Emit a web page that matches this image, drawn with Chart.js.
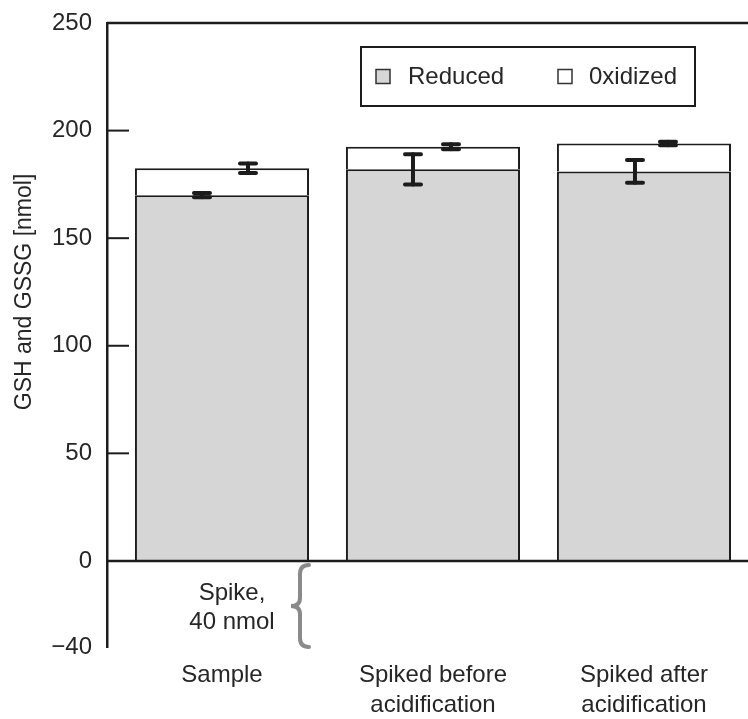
<!DOCTYPE html>
<html>
<head>
<meta charset="utf-8">
<script src="https://cdn.jsdelivr.net/npm/chart.js@4.4.1/dist/chart.umd.min.js"></script>
<style>
  html, body { margin: 0; padding: 0; background: #fff; }
</style>
</head>
<body>
<canvas id="chart" width="748" height="719"></canvas>
<script>
// data
const categories = [['Sample'], ['Spiked before', 'acidification'], ['Spiked after', 'acidification']];
const reduced = [170, 182, 181];
const oxidized = [12.5, 10.5, 13];       // stacked on top of reduced
const reducedErr = [1, 7, 5.3];
const oxidizedErr = [2.2, 1.2, 0.8];
const yTicks = [-40, 0, 50, 100, 150, 200, 250];
const innerTicks = [50, 100, 150, 200];
const seriesNames = ['Reduced', '0xidized'];

// error bar horizontal offsets from bar centre (px)
const redErrDx = [-20, -20, -9];
const oxErrDx = [26, 18, 24];

const FONT = '"Liberation Sans", Arial, Helvetica, sans-serif';
const INK = '#1c1c1c';
const TEXT = '#262626';

const decor = {
  id: 'decor',
  afterDatasetsDraw(chart) {
    const { ctx, chartArea: a, scales: { x, y } } = chart;
    ctx.save();
    ctx.strokeStyle = INK;

    // top frame and zero line
    ctx.lineWidth = 2.5;
    [250, 0].forEach(v => {
      const py = y.getPixelForValue(v);
      ctx.beginPath(); ctx.moveTo(a.left, py); ctx.lineTo(a.right, py); ctx.stroke();
    });
    // inner tick marks
    ctx.lineWidth = 2;
    innerTicks.forEach(v => {
      const py = y.getPixelForValue(v);
      ctx.beginPath(); ctx.moveTo(a.left, py); ctx.lineTo(a.left + 22, py); ctx.stroke();
    });

    // error bars
    const drawErr = (px, center, err) => {
      const t = y.getPixelForValue(center + err);
      const b = y.getPixelForValue(center - err);
      ctx.lineWidth = 4;
      ctx.lineCap = 'round';
      ctx.beginPath(); ctx.moveTo(px, t); ctx.lineTo(px, b); ctx.stroke();
      ctx.beginPath();
      ctx.moveTo(px - 8, t); ctx.lineTo(px + 8, t);
      ctx.moveTo(px - 8, b); ctx.lineTo(px + 8, b);
      ctx.stroke();
    };
    reduced.forEach((v, i) => {
      const cx = x.getPixelForValue(i);
      drawErr(cx + redErrDx[i], v, reducedErr[i]);
      drawErr(cx + oxErrDx[i], v + oxidized[i], oxidizedErr[i]);
    });

    // spike annotation
    const y0 = y.getPixelForValue(0), yb = y.getPixelForValue(-40);
    const bx = x.getPixelForValue(0) + 78;
    const top = y0 + 4, mid = (top + yb) / 2;
    ctx.strokeStyle = '#8a8a8a';
    ctx.lineWidth = 4;
    ctx.lineCap = 'round';
    ctx.beginPath();
    ctx.moveTo(bx + 9, top);
    ctx.quadraticCurveTo(bx, top, bx, top + 9);
    ctx.lineTo(bx, mid - 8);
    ctx.quadraticCurveTo(bx, mid, bx - 9, mid);
    ctx.quadraticCurveTo(bx, mid, bx, mid + 8);
    ctx.lineTo(bx, yb - 9);
    ctx.quadraticCurveTo(bx, yb, bx + 9, yb);
    ctx.stroke();

    ctx.fillStyle = TEXT;
    ctx.font = '24px ' + FONT;
    ctx.textAlign = 'center';
    ctx.textBaseline = 'middle';
    const tx = x.getPixelForValue(0) + 10;
    ctx.fillText('Spike,', tx, y0 + 32);
    ctx.fillText('40 nmol', tx, y0 + 61);

    // legend box
    const lx = 361, ly = 47, lw = 334, lh = 59;
    ctx.fillStyle = '#fff';
    ctx.fillRect(lx, ly, lw, lh);
    ctx.strokeStyle = INK;
    ctx.lineWidth = 2;
    ctx.strokeRect(lx, ly, lw, lh);
    const items = [{ sx: 376, tx: 408 }, { sx: 558, tx: 589 }];
    chart.data.datasets.forEach((ds, i) => {
      const it = items[i];
      const cy = ly + lh / 2;
      ctx.fillStyle = ds.backgroundColor;
      ctx.fillRect(it.sx, cy - 7, 14, 14);
      ctx.lineWidth = 1.5;
      ctx.strokeStyle = '#333';
      ctx.strokeRect(it.sx, cy - 7, 14, 14);
      ctx.fillStyle = TEXT;
      ctx.textAlign = 'left';
      ctx.fillText(ds.label, it.tx, cy + 1);
    });

    // y axis title
    ctx.save();
    ctx.translate(25, y.getPixelForValue(125));
    ctx.rotate(-Math.PI / 2);
    ctx.textAlign = 'center';
    ctx.font = '23px ' + FONT;
    ctx.fillText('GSH and GSSG [nmol]', 0, 0);
    ctx.restore();

    ctx.restore();
  }
};

new Chart(document.getElementById('chart'), {
  type: 'bar',
  data: {
    datasets: [
      {
        label: seriesNames[0],
        data: reduced.map((v, i) => ({ x: i, y: v })),
        backgroundColor: '#d5d6d5',
        borderColor: INK,
        borderWidth: 2,
        categoryPercentage: 1,
        barPercentage: 0.825
      },
      {
        label: seriesNames[1],
        data: oxidized.map((v, i) => ({ x: i, y: v })),
        backgroundColor: '#ffffff',
        borderColor: INK,
        borderWidth: 2,
        categoryPercentage: 1,
        barPercentage: 0.825
      }
    ]
  },
  options: {
    responsive: false,
    animation: false,
    layout: { padding: { top: 23, right: 0, left: 0, bottom: 0 } },
    plugins: { legend: { display: false }, tooltip: { enabled: false } },
    scales: {
      x: {
        type: 'linear',
        stacked: true,
        offset: false,
        min: -0.545,
        max: 2.493,
        grid: { display: false, drawTicks: false },
        border: { display: false },
        afterBuildTicks: s => { s.ticks = [0, 1, 2].map(v => ({ value: v })); },
        afterFit: s => { s.height = 72; s.paddingLeft = 0; s.paddingRight = 0; },
        ticks: {
          autoSkip: false,
          maxRotation: 0,
          padding: 13,
          color: TEXT,
          font: { family: FONT, size: 24, lineHeight: 1.25 },
          callback: v => categories[v]
        }
      },
      y: {
        stacked: true,
        min: -40,
        max: 250,
        grid: { display: false, drawTicks: false },
        border: { display: true, color: INK, width: 2.5 },
        afterBuildTicks: s => { s.ticks = yTicks.map(v => ({ value: v })); },
        afterFit: s => { s.width = 107; s.paddingTop = 0; s.paddingBottom = 0; },
        ticks: {
          padding: 15,
          color: TEXT,
          font: { family: FONT, size: 24 },
          callback: v => (v < 0 ? '\u2212' + Math.abs(v) : String(v))
        }
      }
    }
  },
  plugins: [decor]
});
</script>
</body>
</html>
